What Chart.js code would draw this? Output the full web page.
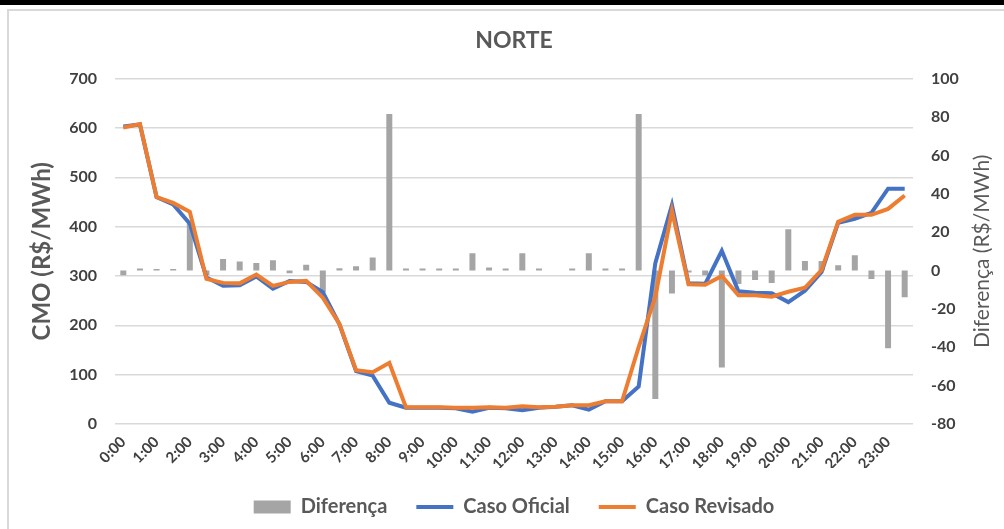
<!DOCTYPE html>
<html>
<head>
<meta charset="utf-8">
<script src="https://cdn.jsdelivr.net/npm/chart.js@4.4.1/dist/chart.umd.min.js"></script>
<style>
  body { margin: 0; background: #fff; overflow: hidden; }
  #topband { position: absolute; left: 0; top: 0; width: 1004px; height: 5px; background: #000; }
  #frame { position: absolute; left: 7px; top: 9px; width: 1000px; height: 530px;
           border-top: 2px solid #d9d9d9; border-left: 2px solid #d9d9d9; }
  #chart { position: absolute; left: 0; top: 0; }
</style>
</head>
<body>
<div id="topband"></div>
<div id="frame"></div>
<canvas id="chart" width="1004" height="529"></canvas>
<script>
// half-hour steps
const horas = ['0:00','0:30','1:00','1:30','2:00','2:30','3:00','3:30','4:00','4:30','5:00','5:30',
  '6:00','6:30','7:00','7:30','8:00','8:30','9:00','9:30','10:00','10:30','11:00','11:30',
  '12:00','12:30','13:00','13:30','14:00','14:30','15:00','15:30','16:00','16:30','17:00','17:30',
  '18:00','18:30','19:00','19:30','20:00','20:30','21:00','21:30','22:00','22:30','23:00','23:30'];

const casoOficial = [603, 607, 460, 445, 406, 297, 280, 281, 299, 274, 290, 288,
  267, 202, 107, 98, 43, 33, 33, 33, 32, 25, 33, 32,
  28, 33, 35, 38, 29, 46, 46, 76, 326, 444, 285, 284,
  351, 269, 266, 265, 247, 270, 308, 408, 416, 428, 477, 477];

const casoRevisado = [601, 608, 460, 448, 430, 294, 286, 285, 303, 280, 288, 290,
  256, 203, 109, 105, 124, 34, 34, 34, 33, 33, 34, 33,
  36, 34, 35, 38, 38, 46, 46, 156, 258, 432, 283, 282,
  300, 261, 261, 258, 268, 276, 312, 410, 424, 424, 436, 463];

const diferenca = [-2.5, 1, 0.8, 0.8, 24.5, -2.5, 6, 4.7, 3.9, 5.3, -1.5, 3,
  -11.5, 1.2, 2.2, 6.8, 81.5, 1, 1, 1, 1, 9, 1.5, 1,
  9, 1, 0, 1, 9, 1, 1, 81.5, -67, -12, -1, -2.5,
  -50.5, -7, -5, -6.5, 21.5, 5, 5, 2.7, 8, -4.5, -40.5, -14];

const cmoTicks = [0, 700, 100];
const difTicks = [-80, 100, 20];

const fonte = 'Lato';
const cinzaTexto = '#595959';

// Excel writes the secondary axis title bottom-to-top, Chart.js rotates it the other way
const tituloDireita = {
  id: 'tituloDireita',
  afterDraw(chart) {
    const s = chart.scales.yDif;
    const ctx = chart.ctx;
    ctx.save();
    ctx.translate(982, (s.top + s.bottom) / 2);
    ctx.rotate(-Math.PI / 2);
    ctx.textAlign = 'center';
    ctx.textBaseline = 'middle';
    ctx.fillStyle = cinzaTexto;
    ctx.font = '21px ' + fonte;
    ctx.fillText('Diferença (R$/MWh)', 0, 0);
    ctx.restore();
  }
};

new Chart(document.getElementById('chart').getContext('2d'), {
  data: {
    labels: horas,
    datasets: [
      {
        type: 'bar',
        label: 'Diferença',
        data: diferenca,
        yAxisID: 'yDif',
        backgroundColor: '#a5a5a5',
        borderWidth: 0,
        barPercentage: 0.36,
        categoryPercentage: 1,
        pointStyle: 'rect',
        order: 3
      },
      {
        type: 'line',
        label: 'Caso Oficial',
        data: casoOficial,
        yAxisID: 'yCmo',
        borderColor: '#4472c4',
        backgroundColor: '#4472c4',
        borderWidth: 4,
        pointRadius: 0,
        pointStyle: 'line',
        tension: 0,
        order: 2
      },
      {
        type: 'line',
        label: 'Caso Revisado',
        data: casoRevisado,
        yAxisID: 'yCmo',
        borderColor: '#ed7d31',
        backgroundColor: '#ed7d31',
        borderWidth: 4,
        pointRadius: 0,
        pointStyle: 'line',
        tension: 0,
        order: 1
      }
    ]
  },
  options: {
    responsive: false,
    animation: false,
    layout: { padding: { left: 0, right: 0, top: 0, bottom: 2 } },
    plugins: {
      tooltip: { enabled: false },
      title: {
        display: true,
        text: 'NORTE',
        fullSize: false,
        color: cinzaTexto,
        font: { family: fonte, size: 23, weight: 'bold' },
        padding: { top: 27, bottom: 24 }
      },
      legend: {
        position: 'bottom',
        fullSize: false,
        labels: {
          usePointStyle: true,
          pointStyleWidth: 37,
          boxHeight: 13,
          padding: 29,
          color: cinzaTexto,
          font: { family: fonte, size: 20, weight: 'bold' },
          sort: (a, b) => a.datasetIndex - b.datasetIndex
        }
      }
    },
    scales: {
      x: {
        offset: true,
        grid: { display: false },
        border: { display: false },
        afterFit: s => { s.height = 44; },
        ticks: {
          autoSkip: false,
          maxRotation: 45,
          minRotation: 45,
          padding: 1,
          color: '#404040',
          font: { family: fonte, size: 15, weight: 'bold' },
          callback: function(value) {
            const h = this.getLabelForValue(value);
            return h.endsWith(':00') ? h : '';
          }
        }
      },
      yCmo: {
        position: 'left',
        min: cmoTicks[0],
        max: cmoTicks[1],
        afterFit: s => { s.width = 115; },
        grid: { color: '#d9d9d9', lineWidth: 1.5, drawTicks: false },
        border: { display: false },
        ticks: {
          stepSize: cmoTicks[2],
          padding: 18,
          color: '#404040',
          font: { family: fonte, size: 16, weight: 'bold' }
        },
        title: {
          display: true,
          text: 'CMO (R$/MWh)',
          color: cinzaTexto,
          font: { family: fonte, size: 24, weight: 'bold' },
          padding: { top: 28, bottom: 0 }
        }
      },
      yDif: {
        position: 'right',
        min: difTicks[0],
        max: difTicks[1],
        afterFit: s => { s.width = 91; },
        grid: { display: false, drawTicks: false },
        border: { display: false },
        ticks: {
          stepSize: difTicks[2],
          padding: 18,
          color: '#404040',
          font: { family: fonte, size: 16, weight: 'bold' }
        }
      }
    }
  },
  plugins: [tituloDireita]
});
</script>
</body>
</html>
